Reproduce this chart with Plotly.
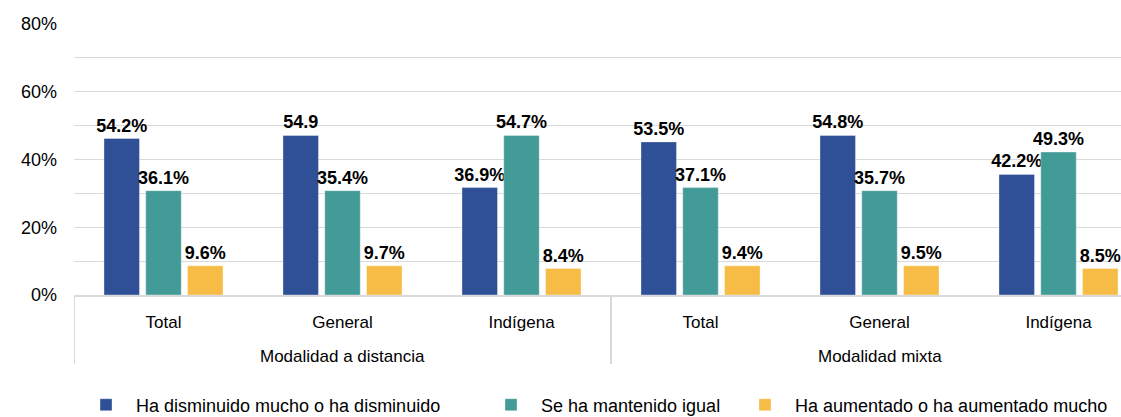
import plotly.graph_objects as go

modalidad = ["Modalidad a distancia"] * 3 + ["Modalidad mixta"] * 3
tipo = ["Total", "General", "Indígena", "Total", "General", "Indígena"]

series_names = [
    "Ha disminuido mucho o ha disminuido",
    "Se ha mantenido igual",
    "Ha aumentado o ha aumentado mucho",
]
disminuido = [46.2, 47.1, 31.7, 45.2, 47.1, 35.6]
mantenido = [30.8, 30.8, 47.1, 31.7, 30.8, 42.2]
aumentado = [8.6, 8.6, 7.8, 8.6, 8.6, 7.8]

disminuido_labels = ["54.2%", "54.9", "36.9%", "53.5%", "54.8%", "42.2%"]
mantenido_labels = ["36.1%", "35.4%", "54.7%", "37.1%", "35.7%", "49.3%"]
aumentado_labels = ["9.6%", "9.7%", "8.4%", "9.4%", "9.5%", "8.5%"]

colors = ["#2F5097", "#439B97", "#F6BC45"]
values = [disminuido, mantenido, aumentado]
labels = [disminuido_labels, mantenido_labels, aumentado_labels]
legends = ["legend", "legend2", "legend3"]

FONT = "Liberation Sans, Arial, sans-serif"
GRID = "#D9D9D9"

cats = [f"{m}|{t}" for m, t in zip(modalidad, tipo)]

fig = go.Figure()
for name, vals, labs, col, lg in zip(series_names, values, labels, colors, legends):
    fig.add_trace(go.Bar(
        x=cats, y=vals, name=name,
        marker=dict(color=col, line=dict(color="rgba(255,255,255,0.35)", width=1)),
        text=labs, textposition="outside", constraintext="none", cliponaxis=False,
        textfont=dict(family=FONT, size=18, color="#000000", weight="bold"),
        legend=lg, hoverinfo="skip", showlegend=True,
    ))

W, H = 1121, 417
L, R, T, B = 74, 0, 24, 122
pw = W - L - R
ph = H - T - B

def lx(px):
    return (px - L) / pw

def py(px):
    return (T + ph - px) / ph

# group dividers and group labels, derived from the category arrays
groups = []
for i, m in enumerate(modalidad):
    if not groups or groups[-1][0] != m:
        groups.append([m, i, i])
    else:
        groups[-1][2] = i

shapes = []
annotations = []
for m, i0, i1 in groups:
    for xb in (i0 - 0.5, i1 + 0.5):
        shapes.append(dict(type="line", xref="x", yref="paper", x0=xb, x1=xb,
                           y0=0, y1=py(364), line=dict(color=GRID, width=2)))
    annotations.append(dict(xref="x", yref="paper", x=(i0 + i1) / 2, y=py(356),
                            text=m, showarrow=False, yanchor="middle",
                            font=dict(family=FONT, size=17, color="#000000")))

legend_common = dict(orientation="h", yanchor="middle", xanchor="left",
                     font=dict(family=FONT, size=18, color="#000000"),
                     bgcolor="rgba(0,0,0,0)", itemwidth=50, y=py(405))

fig.update_layout(
    width=W, height=H, showlegend=True,
    margin=dict(l=L, r=R, t=T, b=B, pad=0, autoexpand=False),
    plot_bgcolor="white", paper_bgcolor="white",
    barmode="group", bargap=0.30, bargroupgap=0.15,
    font=dict(family=FONT, size=17, color="#000000"),
    legend=dict(**legend_common, x=lx(76)),
    legend2=dict(**legend_common, x=lx(481)),
    legend3=dict(**legend_common, x=lx(735)),
    shapes=shapes, annotations=annotations,
    xaxis=dict(
        type="category", range=[-0.5, -0.5 + pw / 179.0],
        tickvals=cats, ticktext=tipo,
        showline=True, linecolor=GRID, linewidth=2,
        tickfont=dict(family=FONT, size=17, color="#000000"),
        showgrid=False, ticks="", ticklabelstandoff=11, automargin=False,
    ),
    yaxis=dict(
        range=[0, 80], dtick=20, ticksuffix="%", showgrid=True,
        gridcolor=GRID, gridwidth=1, zeroline=False, showline=False,
        tickfont=dict(family=FONT, size=18, color="#000000"),
        ticklabelstandoff=16, automargin=False,
        minor=dict(dtick=10, showgrid=True, gridcolor=GRID, gridwidth=1),
    ),
)

fig.write_html(
    "out.html",
    config={"displayModeBar": False},
    post_script="document.body.style.margin='0';document.body.style.overflow='hidden';",
)
